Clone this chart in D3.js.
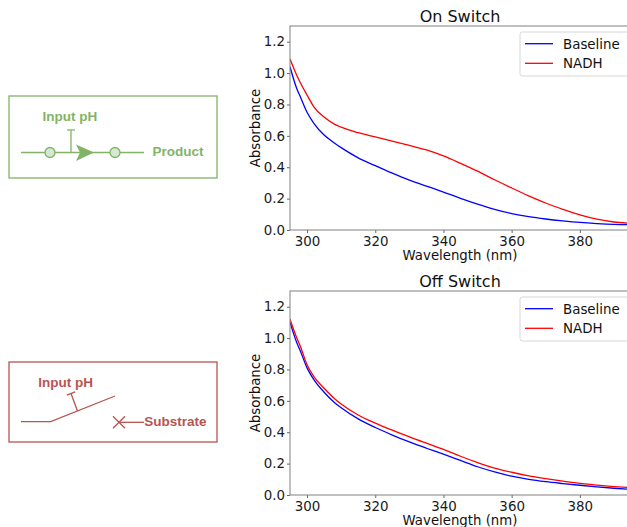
<!DOCTYPE html>
<html>
<head>
<meta charset="utf-8">
<script src="https://cdn.jsdelivr.net/npm/d3@7"></script>
<style>
  html, body { margin: 0; padding: 0; background: #fff; }
  svg { display: block; }
</style>
</head>
<body>
<svg id="fig" width="627" height="527"></svg>
<script>
// Absorbance spectra, 295–395 nm
const wavelengths = [295, 297, 298, 300, 302, 305, 308, 310, 315, 320, 325, 330, 335, 340, 345, 350, 355, 360, 365, 370, 375, 380, 385, 390, 395];

const onBaseline = [1.04, 0.90, 0.85, 0.75, 0.68, 0.605, 0.555, 0.525, 0.46, 0.41, 0.362, 0.318, 0.28, 0.242, 0.202, 0.165, 0.132, 0.105, 0.085, 0.07, 0.058, 0.048, 0.041, 0.036, 0.034];
const onNadh     = [1.09, 0.985, 0.94, 0.86, 0.785, 0.72, 0.675, 0.655, 0.62, 0.593, 0.566, 0.54, 0.51, 0.472, 0.425, 0.375, 0.32, 0.268, 0.218, 0.172, 0.132, 0.096, 0.069, 0.051, 0.042];

const offBaseline = [1.10, 0.97, 0.92, 0.81, 0.735, 0.655, 0.59, 0.556, 0.485, 0.43, 0.382, 0.338, 0.298, 0.26, 0.22, 0.18, 0.147, 0.12, 0.10, 0.085, 0.073, 0.062, 0.052, 0.043, 0.035];
const offNadh     = [1.12, 1.00, 0.95, 0.83, 0.755, 0.68, 0.615, 0.58, 0.51, 0.458, 0.413, 0.37, 0.33, 0.291, 0.247, 0.207, 0.172, 0.145, 0.122, 0.104, 0.088, 0.074, 0.063, 0.054, 0.047];

const xTicks = [300, 320, 340, 360, 380];
const yTicks = [0.0, 0.2, 0.4, 0.6, 0.8, 1.0, 1.2];
const seriesNames = ["Baseline", "NADH"];
const seriesColors = ["#0000ff", "#ff0000"];

const svg = d3.select("#fig");
const FONT = "'DejaVu Sans', sans-serif";

function drawPanel(top, title, series, clipId) {
  const left = 290, width = 341, height = 204;
  const g = svg.append("g").attr("transform", `translate(${left},${top})`);

  const x = d3.scaleLinear().domain([295, 395]).range([0, width]);
  const y = d3.scaleLinear().domain([0, 1.3]).range([height, 0]);

  g.append("clipPath").attr("id", clipId)
    .append("rect").attr("width", width).attr("height", height);

  const line = d3.line()
    .x((d, i) => x(wavelengths[i]))
    .y(d => y(d))
    .curve(d3.curveMonotoneX);

  const plot = g.append("g").attr("clip-path", `url(#${clipId})`);
  series.forEach((vals, k) => {
    plot.append("path")
      .datum(vals)
      .attr("d", line)
      .attr("fill", "none")
      .attr("stroke", seriesColors[k])
      .attr("stroke-width", 1.3);
  });

  // axes
  const xAxis = d3.axisBottom(x).tickValues(xTicks).tickSize(3).tickPadding(3.5)
    .tickFormat(d3.format("d"));
  const yAxis = d3.axisLeft(y).tickValues(yTicks).tickSize(3).tickPadding(2)
    .tickFormat(d3.format(".1f"));

  const gx = g.append("g").attr("transform", `translate(0,${height})`).call(xAxis);
  const gy = g.append("g").call(yAxis);
  [gx, gy].forEach(a => {
    a.select(".domain").remove();
    a.selectAll(".tick line").attr("stroke", "#555").attr("stroke-width", 0.9);
    a.selectAll(".tick text").attr("fill", "#1a1a1a")
      .style("font-family", FONT).style("font-size", "13.4px");
  });

  // frame
  g.append("rect")
    .attr("width", width).attr("height", height)
    .attr("fill", "none").attr("stroke", "#808080").attr("stroke-width", 1);

  // title and labels
  g.append("text")
    .attr("x", width / 2 - 0.5).attr("y", -4.5)
    .attr("text-anchor", "middle")
    .style("font-family", FONT).style("font-size", "16px").attr("fill", "#111")
    .text(title);

  g.append("text")
    .attr("x", width / 2 - 0.5).attr("y", height + 30)
    .attr("text-anchor", "middle")
    .style("font-family", FONT).style("font-size", "13.3px").attr("fill", "#111")
    .text("Wavelength (nm)");

  g.append("text")
    .attr("transform", `translate(-30,${height / 2}) rotate(-90)`)
    .attr("text-anchor", "middle")
    .style("font-family", FONT).style("font-size", "13.3px").attr("fill", "#111")
    .text("Absorbance");

  // legend
  const lg = g.append("g").attr("transform", `translate(230,6)`);
  lg.append("rect")
    .attr("width", 120).attr("height", 44).attr("rx", 2.5)
    .attr("fill", "#fff").attr("fill-opacity", 0.8)
    .attr("stroke", "#d6d6d6").attr("stroke-width", 1);
  seriesNames.forEach((name, k) => {
    const yy = 11.7 + k * 19.6;
    lg.append("line")
      .attr("x1", 5).attr("x2", 33).attr("y1", yy).attr("y2", yy)
      .attr("stroke", seriesColors[k]).attr("stroke-width", 1.3);
    lg.append("text")
      .attr("x", 43).attr("y", yy).attr("dy", "0.36em")
      .style("font-family", FONT).style("font-size", "13.4px").attr("fill", "#111")
      .text(name);
  });
}

drawPanel(26, "On Switch", [onBaseline, onNadh], "clipOn");
drawPanel(291, "Off Switch", [offBaseline, offNadh], "clipOff");

// ---- Switch schematics ----
const DFONT = "'Liberation Sans', Arial, sans-serif";

// On switch: input pH drives substrate -> product
const green = "#82b366", greenFill = "#d5e8d4";
const on = svg.append("g");
on.append("rect").attr("x", 9).attr("y", 96).attr("width", 208).attr("height", 82)
  .attr("fill", "none").attr("stroke", green).attr("stroke-width", 1.3);
on.append("line").attr("x1", 21).attr("x2", 144).attr("y1", 152.5).attr("y2", 152.5)
  .attr("stroke", green).attr("stroke-width", 1.3);
on.append("line").attr("x1", 71).attr("x2", 71).attr("y1", 130).attr("y2", 152.5)
  .attr("stroke", green).attr("stroke-width", 1.3);
on.append("line").attr("x1", 67).attr("x2", 75).attr("y1", 130).attr("y2", 130)
  .attr("stroke", green).attr("stroke-width", 1.3);
on.append("path").attr("d", "M76,144.5 L94,152.5 L76,161 L80,152.5 Z").attr("fill", green);
[50, 115].forEach(cx => on.append("circle").attr("cx", cx).attr("cy", 152.5).attr("r", 5)
  .attr("fill", greenFill).attr("stroke", green).attr("stroke-width", 1.3));
on.append("text").attr("x", 42.5).attr("y", 120.5)
  .style("font-family", DFONT).style("font-size", "13.5px").style("font-weight", "bold")
  .attr("fill", green).text("Input pH");
on.append("text").attr("x", 152.5).attr("y", 155.5)
  .style("font-family", DFONT).style("font-size", "13.5px").style("font-weight", "bold")
  .attr("fill", green).text("Product");

// Off switch: input pH opens the switch, substrate is blocked
const red = "#b85450";
const off = svg.append("g");
off.append("rect").attr("x", 9).attr("y", 362).attr("width", 208).attr("height", 80)
  .attr("fill", "none").attr("stroke", red).attr("stroke-width", 1.3);
off.append("path").attr("d", "M21,421.7 L50.7,421.7 L115,396")
  .attr("fill", "none").attr("stroke", red).attr("stroke-width", 1.3);
// inhibitor bar perpendicular to the open switch arm
off.append("line").attr("x1", 77.5).attr("y1", 411).attr("x2", 71).attr("y2", 393.5)
  .attr("stroke", red).attr("stroke-width", 1.3);
off.append("line").attr("x1", 66.8).attr("y1", 395.2).attr("x2", 75.2).attr("y2", 391.8)
  .attr("stroke", red).attr("stroke-width", 1.3);
off.append("path").attr("d", "M113,416.3 L125,428.3 M113,428.3 L125,416.3")
  .attr("stroke", red).attr("stroke-width", 1.3).attr("fill", "none");
off.append("line").attr("x1", 119).attr("x2", 144).attr("y1", 422.3).attr("y2", 422.3)
  .attr("stroke", red).attr("stroke-width", 1.3);
off.append("text").attr("x", 38.3).attr("y", 387)
  .style("font-family", DFONT).style("font-size", "13.5px").style("font-weight", "bold")
  .attr("fill", red).text("Input pH");
off.append("text").attr("x", 144.3).attr("y", 426)
  .style("font-family", DFONT).style("font-size", "13.5px").style("font-weight", "bold")
  .attr("fill", red).text("Substrate");
</script>
</body>
</html>
